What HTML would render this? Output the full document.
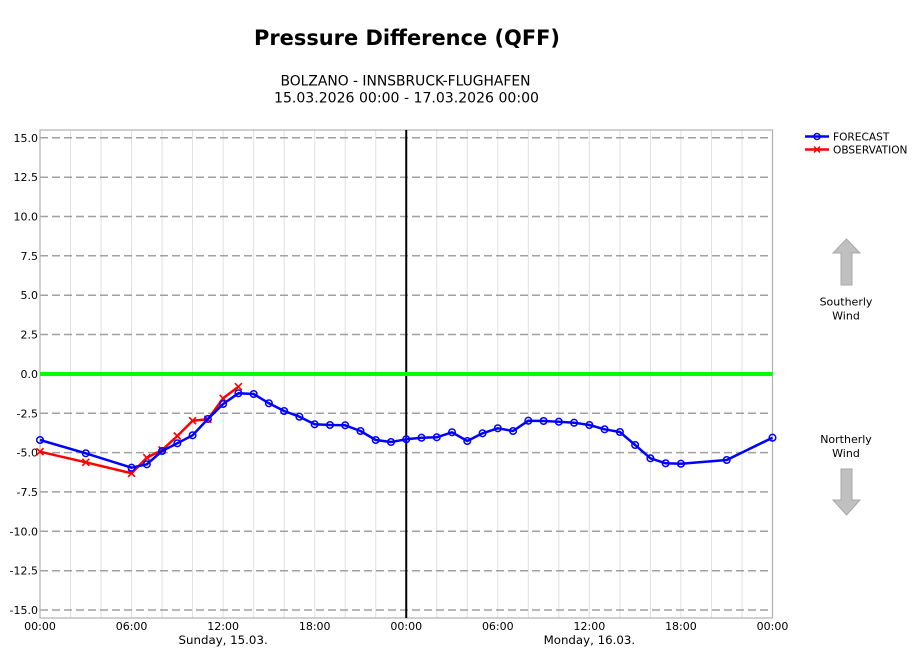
<!DOCTYPE html>
<html><head><meta charset="utf-8"><style>
html,body{margin:0;padding:0;background:#fff;}
svg{display:block;font-family:"DejaVu Sans","Liberation Sans",sans-serif;}
</style></head><body>
<svg width="920" height="652" viewBox="0 0 920 652" xmlns="http://www.w3.org/2000/svg">
<rect width="920" height="652" fill="#fff"/>
<text x="407" y="45" font-size="21" font-weight="bold" text-anchor="middle" fill="#000" textLength="306" lengthAdjust="spacingAndGlyphs">Pressure Difference (QFF)</text>
<text x="405.5" y="85.5" font-size="13.8" text-anchor="middle" fill="#000" textLength="250" lengthAdjust="spacingAndGlyphs">BOLZANO - INNSBRUCK-FLUGHAFEN</text>
<text x="406.5" y="102.5" font-size="14" text-anchor="middle" fill="#000" textLength="265" lengthAdjust="spacingAndGlyphs">15.03.2026 00:00 - 17.03.2026 00:00</text>

<g stroke="#e0e0e0" stroke-width="1">
<line x1="70.52" y1="130" x2="70.52" y2="618"/><line x1="101.04" y1="130" x2="101.04" y2="618"/>
<line x1="131.56" y1="130" x2="131.56" y2="618"/><line x1="162.08" y1="130" x2="162.08" y2="618"/>
<line x1="192.6" y1="130" x2="192.6" y2="618"/><line x1="223.12" y1="130" x2="223.12" y2="618"/>
<line x1="253.64" y1="130" x2="253.64" y2="618"/><line x1="284.16" y1="130" x2="284.16" y2="618"/>
<line x1="314.68" y1="130" x2="314.68" y2="618"/><line x1="345.2" y1="130" x2="345.2" y2="618"/>
<line x1="375.72" y1="130" x2="375.72" y2="618"/>
<line x1="436.76" y1="130" x2="436.76" y2="618"/><line x1="467.28" y1="130" x2="467.28" y2="618"/>
<line x1="497.8" y1="130" x2="497.8" y2="618"/><line x1="528.32" y1="130" x2="528.32" y2="618"/>
<line x1="558.84" y1="130" x2="558.84" y2="618"/><line x1="589.36" y1="130" x2="589.36" y2="618"/>
<line x1="619.88" y1="130" x2="619.88" y2="618"/><line x1="650.4" y1="130" x2="650.4" y2="618"/>
<line x1="680.92" y1="130" x2="680.92" y2="618"/><line x1="711.44" y1="130" x2="711.44" y2="618"/>
<line x1="741.96" y1="130" x2="741.96" y2="618"/>
</g>
<g stroke="#a0a0a0" stroke-width="1.5" stroke-dasharray="8,4">
<line x1="40" y1="137.8" x2="772.5" y2="137.8"/>
<line x1="40" y1="177.2" x2="772.5" y2="177.2"/>
<line x1="40" y1="216.5" x2="772.5" y2="216.5"/>
<line x1="40" y1="255.8" x2="772.5" y2="255.8"/>
<line x1="40" y1="295.2" x2="772.5" y2="295.2"/>
<line x1="40" y1="334.5" x2="772.5" y2="334.5"/>
<line x1="40" y1="413.3" x2="772.5" y2="413.3"/>
<line x1="40" y1="452.6" x2="772.5" y2="452.6"/>
<line x1="40" y1="491.9" x2="772.5" y2="491.9"/>
<line x1="40" y1="531.3" x2="772.5" y2="531.3"/>
<line x1="40" y1="570.7" x2="772.5" y2="570.7"/>
<line x1="40" y1="610" x2="772.5" y2="610"/>
</g>
<rect x="40" y="130" width="732.5" height="488" fill="none" stroke="#b0b0b0" stroke-width="1.2"/>
<line x1="406.24" y1="130" x2="406.24" y2="618" stroke="#000" stroke-width="2"/>
<line x1="40" y1="374" x2="772.5" y2="374" stroke="#00ff00" stroke-width="4"/>

<g font-size="11" fill="#000" text-anchor="end">
<text x="38" y="141.8">15.0</text>
<text x="38" y="181.2">12.5</text>
<text x="38" y="220.5">10.0</text>
<text x="38" y="259.8">7.5</text>
<text x="38" y="299.2">5.0</text>
<text x="38" y="338.5">2.5</text>
<text x="38" y="377.9">0.0</text>
<text x="38" y="417.3">-2.5</text>
<text x="38" y="456.6">-5.0</text>
<text x="38" y="495.9">-7.5</text>
<text x="38" y="535.3">-10.0</text>
<text x="38" y="574.7">-12.5</text>
<text x="38" y="614">-15.0</text>
</g>
<g font-size="11" fill="#000" text-anchor="middle">
<text x="40" y="630">00:00</text>
<text x="131.56" y="630">06:00</text>
<text x="223.12" y="630">12:00</text>
<text x="314.68" y="630">18:00</text>
<text x="406.24" y="630">00:00</text>
<text x="497.8" y="630">06:00</text>
<text x="589.36" y="630">12:00</text>
<text x="680.92" y="630">18:00</text>
<text x="772.48" y="630">00:00</text>
</g>
<g font-size="11.8" fill="#000" text-anchor="middle">
<text x="223.12" y="644">Sunday, 15.03.</text>
<text x="589.36" y="644">Monday, 16.03.</text>
</g>

<polyline fill="none" stroke="#ff0000" stroke-width="2.5" stroke-linejoin="round" points="40,451.7 85.78,462.3 131.56,473.3 146.82,457.7 162.08,450 177.34,436 192.6,420.7 207.86,419.3 223.12,398.3 238.38,386.7"/>
<g stroke="#ff0000" stroke-width="1.6">
<path d="M36.5,448.2L43.5,455.2M36.5,455.2L43.5,448.2"/>
<path d="M82.3,458.8L89.3,465.8M82.3,465.8L89.3,458.8"/>
<path d="M128.1,469.8L135.1,476.8M128.1,476.8L135.1,469.8"/>
<path d="M143.3,454.2L150.3,461.2M143.3,461.2L150.3,454.2"/>
<path d="M158.6,446.5L165.6,453.5M158.6,453.5L165.6,446.5"/>
<path d="M173.8,432.5L180.8,439.5M173.8,439.5L180.8,432.5"/>
<path d="M189.1,417.2L196.1,424.2M189.1,424.2L196.1,417.2"/>
<path d="M204.4,415.8L211.4,422.8M204.4,422.8L211.4,415.8"/>
<path d="M219.6,394.8L226.6,401.8M219.6,401.8L226.6,394.8"/>
<path d="M234.9,383.2L241.9,390.2M234.9,390.2L241.9,383.2"/>
</g>

<polyline fill="none" stroke="#0000ff" stroke-width="2.5" stroke-linejoin="round" points="40,440 85.78,453.3 131.56,467.7 146.82,464.3 162.08,451 177.34,443.3 192.6,435.3 207.86,419 223.12,404 238.38,393.3 253.64,394 268.9,403.3 284.16,411 299.42,416.7 314.68,424.3 329.94,425 345.2,425.3 360.46,431 375.72,440 390.98,442 406.24,439.3 421.5,437.7 436.76,437.3 452.02,432.3 467.28,441 482.54,433.3 497.8,428.3 513.06,431 528.32,420.7 543.58,421 558.84,421.7 574.1,422.7 589.36,425 604.62,429.3 619.88,432 635.14,445 650.4,458.3 665.66,463.3 680.92,463.7 726.7,460 772.48,437.7"/>
<g fill="none" stroke="#0000ff" stroke-width="1.5">
<circle cx="40" cy="440" r="3.3"/><circle cx="85.78" cy="453.3" r="3.3"/><circle cx="131.56" cy="467.7" r="3.3"/>
<circle cx="146.82" cy="464.3" r="3.3"/><circle cx="162.08" cy="451" r="3.3"/><circle cx="177.34" cy="443.3" r="3.3"/>
<circle cx="192.6" cy="435.3" r="3.3"/><circle cx="207.86" cy="419" r="3.3"/><circle cx="223.12" cy="404" r="3.3"/>
<circle cx="238.38" cy="393.3" r="3.3"/><circle cx="253.64" cy="394" r="3.3"/><circle cx="268.9" cy="403.3" r="3.3"/>
<circle cx="284.16" cy="411" r="3.3"/><circle cx="299.42" cy="416.7" r="3.3"/><circle cx="314.68" cy="424.3" r="3.3"/>
<circle cx="329.94" cy="425" r="3.3"/><circle cx="345.2" cy="425.3" r="3.3"/><circle cx="360.46" cy="431" r="3.3"/>
<circle cx="375.72" cy="440" r="3.3"/><circle cx="390.98" cy="442" r="3.3"/><circle cx="406.24" cy="439.3" r="3.3"/>
<circle cx="421.5" cy="437.7" r="3.3"/><circle cx="436.76" cy="437.3" r="3.3"/><circle cx="452.02" cy="432.3" r="3.3"/>
<circle cx="467.28" cy="441" r="3.3"/><circle cx="482.54" cy="433.3" r="3.3"/><circle cx="497.8" cy="428.3" r="3.3"/>
<circle cx="513.06" cy="431" r="3.3"/><circle cx="528.32" cy="420.7" r="3.3"/><circle cx="543.58" cy="421" r="3.3"/>
<circle cx="558.84" cy="421.7" r="3.3"/><circle cx="574.1" cy="422.7" r="3.3"/><circle cx="589.36" cy="425" r="3.3"/>
<circle cx="604.62" cy="429.3" r="3.3"/><circle cx="619.88" cy="432" r="3.3"/><circle cx="635.14" cy="445" r="3.3"/>
<circle cx="650.4" cy="458.3" r="3.3"/><circle cx="665.66" cy="463.3" r="3.3"/><circle cx="680.92" cy="463.7" r="3.3"/>
<circle cx="726.7" cy="460" r="3.3"/><circle cx="772.48" cy="437.7" r="3.3"/>
</g>

<!-- legend -->
<line x1="805" y1="136.5" x2="829" y2="136.5" stroke="#0000ff" stroke-width="2.5"/>
<circle cx="817" cy="136.5" r="3" fill="none" stroke="#0000ff" stroke-width="1.5"/>
<text x="833" y="140.5" font-size="10.6" fill="#000">FORECAST</text>
<line x1="805" y1="149.5" x2="829" y2="149.5" stroke="#ff0000" stroke-width="2.5"/>
<path d="M814,146.5L820,152.5M814,152.5L820,146.5" stroke="#ff0000" stroke-width="1.5"/>
<text x="833" y="153.5" font-size="10.6" fill="#000">OBSERVATION</text>

<!-- arrows -->
<path d="M846.5,239 L860,253 L852,253 L852,285 L841,285 L841,253 L833,253 Z" fill="#c0c0c0" stroke="#a8a8a8" stroke-width="1"/>
<text x="846" y="305.5" font-size="11" text-anchor="middle" fill="#000">Southerly</text>
<text x="846" y="319.5" font-size="11" text-anchor="middle" fill="#000">Wind</text>
<text x="846" y="443" font-size="11" text-anchor="middle" fill="#000">Northerly</text>
<text x="846" y="457" font-size="11" text-anchor="middle" fill="#000">Wind</text>
<path d="M841,469 L852,469 L852,500 L860,500 L846.5,515 L833,500 L841,500 Z" fill="#c0c0c0" stroke="#a8a8a8" stroke-width="1"/>
</svg>
</body></html>
